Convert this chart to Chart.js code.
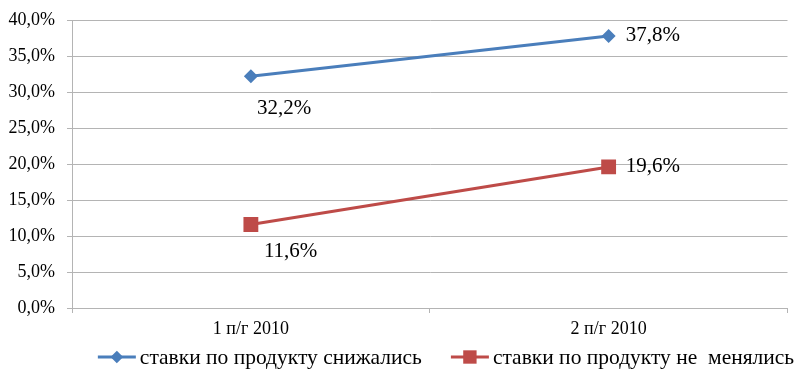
<!DOCTYPE html>
<html>
<head>
<meta charset="utf-8">
<script src="https://cdn.jsdelivr.net/npm/chart.js@4.4.1/dist/chart.umd.min.js"></script>
<style>
  html, body { margin: 0; padding: 0; background: #ffffff; }
  #wrap { width: 798px; height: 369px; }
</style>
</head>
<body>
<div id="wrap"><canvas id="chart" width="798" height="369"></canvas></div>
<script>
// Periods (half-years)
const categories = ['1 п/г 2010', '2 п/г 2010'];
// Share of respondents, %
const ratesDecreased = [32.2, 37.8];
const ratesUnchanged = [11.6, 19.6];
// Series names
const seriesNames = ['ставки по продукту снижались', 'ставки по продукту не  менялись'];

const SERIF = '"Liberation Serif", "Times New Roman", serif';
const fmtPct = v => v.toFixed(1).replace('.', ',') + '%';

// Value labels next to each marker
const valueLabels = {
  id: 'valueLabels',
  afterDatasetsDraw(chart, args, opts) {
    const ctx = chart.ctx;
    ctx.save();
    ctx.font = opts.font;
    ctx.fillStyle = opts.color;
    ctx.textBaseline = 'middle';
    ctx.textAlign = 'left';
    chart.data.datasets.forEach((ds, di) => {
      const meta = chart.getDatasetMeta(di);
      const offs = opts.offsets[di];
      meta.data.forEach((pt, i) => {
        const o = offs[i];
        ctx.fillText(fmtPct(ds.data[i]), pt.x + o[0], pt.y + o[1]);
      });
    });
    ctx.restore();
  }
};

// Legend drawn as line + marker + text, like the series themselves
const lineLegend = {
  id: 'lineLegend',
  afterDraw(chart, args, opts) {
    const ctx = chart.ctx;
    ctx.save();
    ctx.font = opts.font;
    ctx.textBaseline = 'middle';
    const items = chart.data.datasets.map(ds => ({ ds, w: opts.lineLen + opts.textGap + ctx.measureText(ds.label).width }));
    const total = items.reduce((s, it) => s + it.w, 0) + opts.itemGap * (items.length - 1);
    let x = opts.centerX - total / 2;
    const y = opts.y;
    items.forEach(it => {
      const ds = it.ds;
      ctx.strokeStyle = ds.borderColor;
      ctx.lineWidth = ds.borderWidth;
      ctx.beginPath();
      ctx.moveTo(x, y);
      ctx.lineTo(x + opts.lineLen, y);
      ctx.stroke();
      ctx.fillStyle = ds.pointBackgroundColor;
      Chart.helpers.drawPoint(ctx, {
        pointStyle: ds.pointStyle,
        radius: ds.pointRadius * opts.markerScale,
        borderWidth: 0
      }, x + opts.lineLen / 2, y);
      ctx.fillStyle = opts.color;
      ctx.fillText(ds.label, x + opts.lineLen + opts.textGap, y + 1);
      x += it.w + opts.itemGap;
    });
    ctx.restore();
  }
};

const BLUE = '#4a7ebb';
const RED = '#be4b48';
const GRID = '#b4b4b4';

new Chart(document.getElementById('chart'), {
  type: 'line',
  data: {
    labels: categories,
    datasets: [
      {
        label: seriesNames[0],
        data: ratesDecreased,
        borderColor: BLUE,
        backgroundColor: BLUE,
        pointBackgroundColor: BLUE,
        pointBorderColor: BLUE,
        borderWidth: 3,
        pointStyle: 'rectRot',
        pointRadius: 7,
        pointBorderWidth: 0,
        tension: 0
      },
      {
        label: seriesNames[1],
        data: ratesUnchanged,
        borderColor: RED,
        backgroundColor: RED,
        pointBackgroundColor: RED,
        pointBorderColor: RED,
        borderWidth: 3,
        pointStyle: 'rect',
        pointRadius: 10.5,
        pointBorderWidth: 0,
        tension: 0
      }
    ]
  },
  options: {
    responsive: false,
    animation: false,
    events: [],
    layout: { padding: { top: 20, right: 10, bottom: 24, left: 0 } },
    scales: {
      x: {
        offset: true,
        grid: { display: true, offset: true, drawOnChartArea: false, drawTicks: true, tickLength: 5, color: GRID },
        border: { display: true, color: GRID, width: 1 },
        ticks: { font: { family: SERIF, size: 18 }, color: '#000', padding: 5, maxRotation: 0 },
        afterFit(s) { s.height = 37; }
      },
      y: {
        min: 0,
        max: 40,
        ticks: {
          stepSize: 5,
          font: { family: SERIF, size: 18, lineHeight: 0.9 },
          color: '#000',
          padding: 12,
          callback: v => fmtPct(v)
        },
        grid: { color: GRID, tickLength: 5, drawTicks: true },
        border: { display: true, color: GRID, width: 1 },
        afterFit(s) { s.width = 72; }
      }
    },
    plugins: {
      legend: { display: false },
      tooltip: { enabled: false },
      valueLabels: {
        font: '21px ' + SERIF,
        color: '#000',
        offsets: [
          [[6, 32], [17, 0]],
          [[13, 27], [17, 0]]
        ]
      },
      lineLegend: {
        font: '21.5px ' + SERIF,
        color: '#000',
        y: 357,
        centerX: 446,
        lineLen: 38,
        textGap: 4,
        itemGap: 29,
        markerScale: 0.9
      }
    }
  },
  plugins: [valueLabels, lineLegend]
});
</script>
</body>
</html>
